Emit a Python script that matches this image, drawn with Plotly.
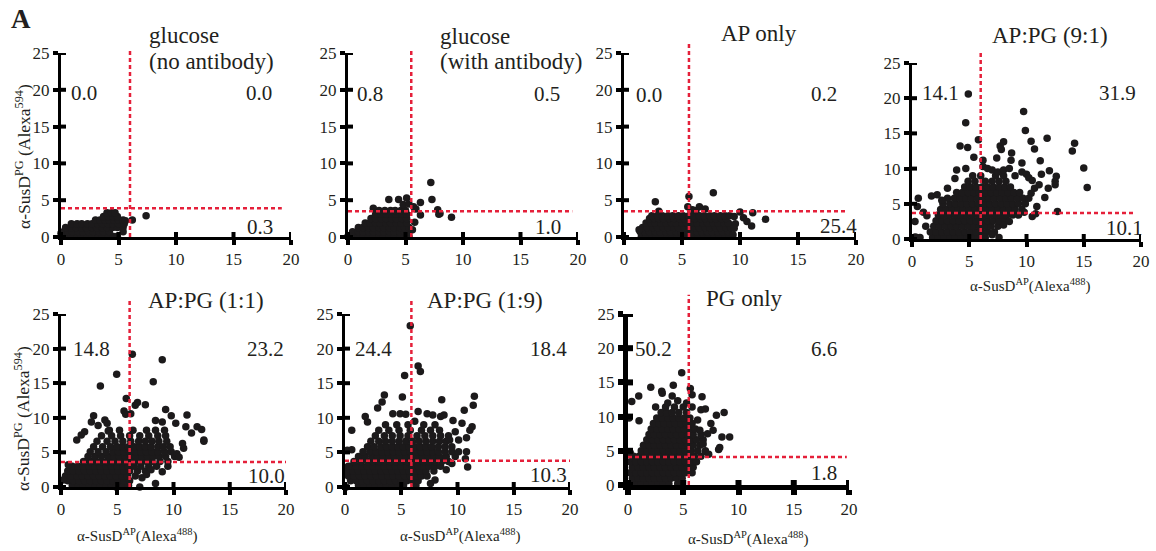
import plotly.graph_objects as go

W, H = 1156, 551
FONT = "Liberation Serif, Times New Roman, Times, serif"

# ---------------- data ----------------
TITLES = ["glucose<br>(no antibody)", "glucose<br>(with antibody)", "AP only", "AP:PG (9:1)",
          "AP:PG (1:1)", "AP:PG (1:9)", "PG only"]
PCT_UPPER_LEFT = ["0.0", "0.8", "0.0", "14.1", "14.8", "24.4", "50.2"]
PCT_UPPER_RIGHT = ["0.0", "0.5", "0.2", "31.9", "23.2", "18.4", "6.6"]
PCT_LOWER_RIGHT = ["0.3", "1.0", "25.4", "10.1", "10.0", "10.3", "1.8"]
GATE_X = [6.0, 5.5, 5.6, 6.0, 6.1, 5.9, 5.5]
GATE_Y = [3.9, 3.5, 3.5, 3.7, 3.6, 3.8, 4.1]
X_TICKS = [0, 5, 10, 15, 20]
Y_TICKS = [0, 5, 10, 15, 20, 25]
Y_TITLE = "α-SusD<sup>PG</sup> (Alexa<sup>594</sup>)"
X_TITLE = "α-SusD<sup>AP</sup>(Alexa<sup>488</sup>)"

# dense cores: (y, [x values]) rows, plus individual scattered cells
P1_ROWS = [
    (0.1, [0.1, 0.5, 0.9, 1.4, 1.8, 2.3, 2.7, 3.2, 3.6, 4.1, 4.5, 4.9]),
    (0.7, [0.2, 0.6, 1.0, 1.5, 1.9, 2.4, 2.8, 3.3, 3.7, 4.2, 5.4]),
    (1.3, [0.4, 0.9, 1.3, 1.8, 2.2, 2.7, 3.1, 3.6, 4.0, 4.5, 4.9, 5.4]),
    (1.8, [0.9, 1.4, 1.8, 2.3, 2.7, 3.2, 3.6, 4.1, 4.5, 5.0, 5.5]),
    (2.3, [3.0, 3.4, 3.8, 4.2, 4.6, 5.0, 5.4]),
    (2.8, [3.7, 4.1, 4.5, 4.9]),
    (3.3, [4.0, 4.4, 4.7]),
]
P1_CELLS = [(6.2, 2.3), (7.4, 2.9), (0.0, 0.5), (5.6, 2.2)]

P2_ROWS = [
    (0.1, [0.0, 0.4, 0.9, 1.3, 1.8, 2.2, 2.7, 3.1, 3.6, 4.0, 4.5, 4.9, 5.3]),
    (0.7, [0.4, 0.9, 1.3, 1.8, 2.2, 2.7, 3.1, 3.6, 4.0, 4.5, 4.9, 5.3]),
    (1.3, [0.9, 1.3, 1.8, 2.2, 2.7, 3.1, 3.6, 4.0, 4.5, 4.9, 5.3]),
    (1.9, [1.5, 1.9, 2.4, 2.8, 3.3, 3.7, 4.2, 4.6, 5.1]),
    (2.5, [2.0, 2.4, 2.9, 3.3, 3.8, 4.2, 4.7, 5.1]),
    (3.1, [2.4, 2.9, 3.3, 3.8, 4.2, 4.7, 5.1]),
    (3.6, [2.7, 3.2, 3.7, 4.1, 4.6, 5.0]),
]
P2_CELLS = [(3.55, 5.1), (4.4, 5.1), (5.1, 5.3), (4.8, 4.4), (5.3, 4.5), (5.7, 4.1), (5.9, 3.8),
            (6.3, 4.7), (6.3, 3.0), (7.2, 7.4), (7.3, 5.1), (7.8, 3.7), (8.0, 3.2), (7.9, 3.1),
            (9.0, 2.7), (5.8, 2.0), (5.6, 1.0), (2.2, 3.9)]

P3_ROWS = [
    (0.1, [1.5, 1.9, 2.4, 2.8, 3.3, 3.7, 4.2, 4.6, 5.1, 5.5, 6.0, 6.4, 6.9, 7.3, 7.8, 8.2, 8.7, 9.1]),
    (0.7, [1.4, 1.8, 2.2, 2.7, 3.1, 3.6, 4.0, 4.5, 4.9, 5.4, 5.8, 6.3, 6.7, 7.2, 7.6, 8.1, 8.5, 9.0]),
    (1.3, [1.6, 2.0, 2.5, 2.9, 3.4, 3.8, 4.3, 4.7, 5.2, 5.6, 6.1, 6.5, 7.0, 7.4, 7.9, 8.3, 8.8, 9.2]),
    (1.9, [1.9, 2.3, 2.7, 3.2, 3.6, 4.1, 4.5, 5.0, 5.4, 5.9, 6.3, 6.8, 7.2, 7.7, 8.1, 8.6, 9.0]),
    (2.5, [2.2, 2.6, 3.0, 3.4, 3.9, 4.3, 4.8, 5.2, 5.7, 6.1, 6.6, 7.0, 7.5, 7.9, 8.4, 8.8]),
    (2.9, [2.4, 2.9, 3.3, 3.8, 4.2, 4.7, 5.1, 5.6, 6.0, 6.5, 6.9, 7.4, 7.8, 8.3, 8.7, 9.1]),
]
P3_CELLS = [(2.7, 4.8), (5.6, 5.5), (5.5, 4.1), (6.5, 4.1), (7.0, 3.8), (7.7, 6.0), (9.5, 2.8),
            (9.6, 1.8), (10.0, 3.4), (10.3, 2.6), (10.6, 2.1), (11.1, 3.3), (11.0, 1.5), (12.2, 2.4),
            (9.4, 0.3), (9.5, 1.2), (6.2, 3.6), (5.9, 3.7), (3.0, 3.5), (1.3, 1.0)]

P4_ROWS = [
    (0.2, [0.2, 0.7, 1.8, 2.3, 2.8, 3.3, 3.8, 4.3, 4.8, 5.3, 5.8, 6.4, 7.6]),
    (1.0, [1.6, 2.1, 2.6, 3.1, 3.6, 4.1, 4.6, 5.1, 5.6, 6.1, 6.6, 7.2]),
    (1.8, [1.9, 2.4, 2.9, 3.4, 3.9, 4.4, 4.9, 5.4, 5.9, 6.4, 6.9, 7.5]),
    (2.6, [2.1, 2.6, 3.1, 3.6, 4.1, 4.6, 5.1, 5.6, 6.1, 6.6, 7.1, 7.6, 8.1]),
    (3.4, [2.3, 2.8, 3.3, 3.8, 4.3, 4.8, 5.3, 5.8, 6.3, 6.8, 7.3, 7.8, 8.3, 8.8, 9.3]),
    (4.2, [2.5, 3.0, 3.5, 4.0, 4.5, 5.0, 5.5, 6.0, 6.5, 7.0, 7.5, 8.0, 8.5, 9.0, 9.6]),
    (5.0, [2.7, 3.3, 3.8, 4.3, 4.8, 5.3, 5.8, 6.3, 6.8, 7.3, 7.8, 8.3, 8.8, 9.3, 9.9]),
    (5.8, [3.1, 3.7, 4.2, 4.7, 5.2, 5.7, 6.2, 6.7, 7.2, 7.7, 8.2, 8.7, 9.2, 9.7]),
    (6.6, [3.9, 4.4, 4.9, 5.4, 5.9, 6.4, 6.9, 7.4, 7.9, 8.4, 8.9, 9.4]),
    (7.4, [4.6, 5.1, 5.6, 6.1, 6.6, 7.1, 7.6, 8.1, 8.6]),
    (8.2, [4.9, 5.5, 6.4, 7.0, 7.6, 8.2]),
    (9.0, [5.3, 6.0, 7.3, 8.0]),
]
P4_CELLS = [(0.3, 0.3), (0.26, 2.5), (0.47, 4.6), (0.55, 5.8), (1.0, 3.8), (1.3, 3.3), (1.7, 6.1),
            (2.2, 6.3), (2.6, 5.5), (1.2, 1.8), (6.3, 0.3), (7.0, 0.6), (8.0, 2.0), (8.5, 2.5),
            (10.5, 3.2), (10.8, 3.6), (12.7, 3.9), (10.9, 4.6), (9.8, 3.8), (6.2, 11.2), (6.2, 10.3),
            (6.6, 10.0), (7.0, 9.8), (7.5, 9.5), (8.0, 9.8), (8.5, 10.0), (9.0, 9.0), (9.6, 9.5),
            (10.0, 9.2), (10.2, 8.7), (10.5, 8.3), (10.7, 7.2), (11.1, 7.7), (11.6, 5.9), (11.9, 7.2),
            (10.4, 6.5), (10.2, 5.8), (12.5, 7.7), (12.5, 8.2), (12.6, 8.9), (12.0, 9.7), (11.3, 9.2),
            (11.2, 11.1), (9.6, 10.8), (8.7, 12.2), (8.65, 11.2), (7.4, 11.5), (7.7, 13.2), (7.8, 12.7),
            (8.0, 13.8), (5.4, 11.6), (4.7, 10.0), (3.9, 9.8), (3.75, 8.6), (3.1, 7.2), (5.8, 14.1),
            (4.2, 13.2), (4.86, 13.0), (4.69, 16.5), (4.92, 20.6), (9.75, 18.1), (9.9, 15.4),
            (10.4, 13.9), (10.7, 12.8), (11.8, 14.3), (14.2, 13.6), (14.0, 12.5), (15.0, 10.1),
            (15.3, 7.3)]

P5_ROWS = [
    (0.2, [1.0, 1.5, 2.0, 2.5, 3.0, 3.5, 4.0, 4.5, 5.0, 5.5, 6.0]),
    (0.9, [0.6, 1.1, 1.6, 2.1, 2.6, 3.1, 3.6, 4.1, 4.6, 5.1, 5.6, 6.1]),
    (1.6, [0.4, 0.9, 1.4, 1.9, 2.4, 2.9, 3.4, 3.9, 4.4, 4.9, 5.4, 5.9, 6.6]),
    (2.3, [0.6, 1.1, 1.6, 2.1, 2.6, 3.1, 3.6, 4.1, 4.6, 5.1, 5.6, 6.1, 6.8, 7.5]),
    (3.0, [1.0, 1.5, 2.0, 2.5, 3.0, 3.5, 4.0, 4.5, 5.0, 5.5, 6.0, 6.5, 7.1, 7.8, 8.5]),
    (3.7, [2.0, 2.6, 3.1, 3.6, 4.1, 4.6, 5.1, 5.6, 6.1, 6.6, 7.1, 7.6, 8.1, 8.8, 9.5]),
    (4.4, [2.4, 3.0, 3.6, 4.2, 4.7, 5.2, 5.7, 6.2, 6.7, 7.2, 7.7, 8.2, 8.7, 9.3, 10.1]),
    (5.1, [2.6, 3.3, 4.0, 4.6, 5.1, 5.6, 6.1, 6.6, 7.1, 7.6, 8.1, 8.6, 9.2, 9.8]),
    (5.8, [2.9, 3.7, 4.4, 5.0, 5.5, 6.0, 6.5, 7.0, 7.5, 8.0, 8.6, 9.1, 9.7]),
    (6.6, [3.2, 4.1, 4.8, 5.5, 6.2, 6.9, 7.5, 8.1, 8.7, 9.4]),
    (7.4, [3.6, 4.5, 5.3, 6.1, 7.0, 7.8, 8.6, 9.3]),
    (8.2, [4.3, 5.2, 6.4, 7.6, 8.4, 9.2]),
]
P5_CELLS = [(6.34, 19.2), (9.0, 18.4), (4.95, 16.3), (8.2, 15.2), (3.5, 14.6), (5.8, 12.8),
            (6.6, 11.8), (6.8, 12.2), (7.5, 11.9), (5.6, 11.0), (5.75, 10.5), (6.2, 10.6), (9.3, 11.2),
            (9.8, 10.3), (11.2, 10.4), (8.4, 9.6), (9.0, 9.4), (10.2, 9.2), (11.1, 8.7), (12.1, 8.7),
            (12.5, 8.3), (12.7, 6.8), (12.7, 6.6), (11.6, 7.8), (10.8, 6.3), (10.9, 5.6), (10.3, 4.8),
            (10.5, 4.3), (2.9, 10.3), (2.7, 9.4), (2.1, 8.0), (1.8, 7.5), (1.4, 6.8), (3.9, 9.7),
            (4.1, 9.2), (4.2, 8.1), (3.3, 8.9), (0.65, 3.2), (0.2, 1.0), (7.2, 1.35), (8.4, 0.5),
            (7.0, 0.0), (8.0, 2.5), (9.0, 2.2), (9.5, 3.0), (7.6, 1.8), (4.9, 0.0)]

P6_ROWS = [
    (0.2, [1.2, 1.7, 2.2, 2.7, 3.2, 3.7, 4.2, 4.7, 5.2, 6.3]),
    (0.9, [0.5, 1.0, 1.5, 2.0, 2.5, 3.0, 3.5, 4.0, 4.5, 5.0, 5.5, 6.0, 6.5]),
    (1.6, [0.3, 0.8, 1.3, 1.8, 2.3, 2.8, 3.3, 3.8, 4.3, 4.8, 5.3, 5.8, 6.3, 6.8, 7.3]),
    (2.3, [0.2, 0.7, 1.2, 1.7, 2.2, 2.7, 3.2, 3.7, 4.2, 4.7, 5.2, 5.7, 6.2, 6.7, 7.2, 7.9]),
    (3.0, [0.5, 1.0, 1.5, 2.0, 2.5, 3.0, 3.5, 4.0, 4.5, 5.0, 5.5, 6.0, 6.5, 7.0, 7.5, 8.0, 8.5]),
    (3.7, [0.8, 1.4, 2.0, 2.5, 3.0, 3.5, 4.0, 4.5, 5.0, 5.5, 6.0, 6.5, 7.0, 7.5, 8.0, 8.6, 9.2]),
    (4.4, [1.2, 1.8, 2.4, 2.9, 3.4, 3.9, 4.4, 4.9, 5.4, 5.9, 6.4, 6.9, 7.4, 7.9, 8.4, 9.0, 9.8]),
    (5.1, [1.6, 2.2, 2.8, 3.3, 3.8, 4.3, 4.8, 5.3, 5.8, 6.3, 6.8, 7.3, 7.8, 8.3, 8.9, 9.5, 10.1]),
    (5.8, [2.0, 2.6, 3.2, 3.7, 4.2, 4.7, 5.2, 5.7, 6.2, 6.7, 7.2, 7.7, 8.3, 8.9, 9.5]),
    (6.6, [2.3, 3.0, 3.6, 4.2, 4.8, 5.4, 6.0, 6.6, 7.2, 7.8, 8.4, 9.0]),
    (7.4, [2.7, 3.5, 4.2, 4.9, 5.6, 6.4, 7.1, 7.8, 8.5, 9.2]),
    (8.2, [3.0, 3.9, 4.8, 5.8, 6.8, 7.6, 8.4]),
    (9.0, [3.6, 4.6, 5.6, 7.0, 8.0]),
]
P6_CELLS = [(5.8, 23.3), (6.5, 17.5), (6.7, 16.7), (5.3, 16.1), (5.1, 13.0), (3.5, 13.3),
            (3.3, 12.3), (2.9, 11.4), (11.5, 13.1), (11.4, 11.8), (10.6, 11.1), (8.6, 12.6),
            (11.3, 8.7), (11.1, 8.2), (10.8, 7.1), (10.1, 6.8), (9.3, 6.8), (10.8, 5.1), (10.7, 4.1),
            (10.9, 2.9), (1.8, 10.2), (2.0, 9.4), (0.6, 8.2), (0.2, 5.3), (0.6, 5.4), (4.25, 10.6),
            (4.9, 10.6), (6.5, 10.9), (7.3, 10.6), (7.8, 10.4), (8.5, 10.2), (8.8, 10.4), (5.4, 10.5),
            (6.2, 9.5), (9.6, 9.6), (9.8, 8.0), (10.4, 9.2), (8.0, 1.0), (7.6, 0.5), (9.0, 2.5),
            (9.5, 3.4), (0.1, 0.0), (0.3, 3.0), (0.1, 2.1)]

P7_ROWS = [
    (0.2, [0.2, 0.7, 1.2, 1.7, 2.2, 2.7, 3.2, 3.7, 4.5]),
    (1.0, [0.4, 0.9, 1.4, 1.9, 2.4, 2.9, 3.4, 3.9, 4.4, 4.9]),
    (1.8, [0.2, 0.7, 1.2, 1.7, 2.2, 2.7, 3.2, 3.7, 4.2, 4.7, 5.2, 5.8]),
    (2.6, [0.4, 0.9, 1.4, 1.9, 2.4, 2.9, 3.4, 3.9, 4.4, 4.9, 5.4, 5.9]),
    (3.4, [0.2, 0.7, 1.2, 1.7, 2.2, 2.7, 3.2, 3.7, 4.2, 4.7, 5.2, 5.7, 6.2]),
    (4.2, [0.5, 1.0, 1.5, 2.0, 2.5, 3.0, 3.5, 4.0, 4.5, 5.0, 5.5, 6.0, 6.6]),
    (5.0, [1.2, 1.7, 2.2, 2.7, 3.2, 3.7, 4.2, 4.7, 5.2, 5.7, 6.3, 7.0]),
    (5.8, [1.4, 1.9, 2.4, 2.9, 3.4, 3.9, 4.4, 4.9, 5.4, 5.9, 6.5]),
    (6.6, [1.7, 2.2, 2.7, 3.2, 3.7, 4.2, 4.7, 5.2, 5.7, 6.2, 6.8]),
    (7.4, [1.9, 2.4, 2.9, 3.4, 3.9, 4.4, 4.9, 5.4, 5.9, 6.6]),
    (8.2, [2.1, 2.6, 3.1, 3.6, 4.1, 4.6, 5.1, 5.6, 6.1]),
    (9.0, [2.3, 2.8, 3.3, 3.8, 4.3, 4.8, 5.3, 5.8]),
    (9.8, [2.6, 3.1, 3.6, 4.1, 4.6, 5.1, 5.6]),
    (10.6, [3.0, 3.5, 4.0, 4.6, 5.3]),
    (11.4, [2.5, 3.4, 4.2, 5.0, 5.8]),
]
P7_CELLS = [(4.86, 16.4), (4.1, 14.6), (2.06, 14.3), (3.05, 13.7), (3.1, 13.4), (5.64, 14.1),
            (5.8, 13.2), (6.7, 12.9), (0.97, 13.0), (0.34, 12.2), (4.0, 13.0), (6.6, 11.0),
            (7.0, 11.1), (8.0, 10.2), (8.7, 10.6), (7.5, 9.0), (9.2, 7.0), (8.5, 7.0), (8.3, 5.5),
            (8.2, 5.2), (7.7, 8.0), (7.0, 4.9), (0.1, 9.8), (1.0, 9.4), (0.2, 4.7), (6.8, 6.0),
            (7.3, 4.5), (7.2, 7.5), (6.5, 8.0), (6.3, 9.5), (5.3, 12.0), (4.5, 12.3), (3.6, 12.0)]

PANEL_ROWS = [P1_ROWS, P2_ROWS, P3_ROWS, P4_ROWS, P5_ROWS, P6_ROWS, P7_ROWS]
PANEL_CELLS = [P1_CELLS, P2_CELLS, P3_CELLS, P4_CELLS, P5_CELLS, P6_CELLS, P7_CELLS]

# ---------------- layout geometry (pixels) ----------------
# x at value 0, x at value 20, y at value 0, y at value 25
PANEL_PX = [(61, 291, 237, 53), (348, 578, 237, 53), (624, 856, 237, 53), (912, 1141, 239, 63),
            (61, 286, 487, 314), (345, 570, 487, 314), (628, 849, 485, 314)]
VLINE_TOP = [25.5, 25.5, 26.4, 26.8, 27.0, 27.0, 27.8]
HLINE_END = [19.2, 19.5, 19.3, 19.3, 20.0, 20.0, 19.8]
AXIS_W = [3, 3, 3, 3, 3, 3, 5]

TITLE_POS = [(147, 'left'), (438, 'left'), (759, 'center'), (1050, 'center'),
             (206, 'center'), (485, 'center'), (744, 'center')]
TITLE_Y = [(35, 61), (36, 61), 34, 35, 300, 300, 298]
UL_POS = [(84, 93), (370, 94), (649, 95), (940, 93), (91, 349), (373, 349), (653, 349)]
UR_POS = [(259, 93), (547, 94), (824, 94), (1117, 93), (265, 349), (548, 349), (824, 349)]
LR_POS = [(260, 227), (548, 227), (838, 226), (1124, 228), (266, 476), (548, 475), (824, 473)]

RED = "#e5203a"
DOT = "#1c1a1b"
INK = "#231f20"


def px(x):
    return x / W


def py(y):
    return 1 - y / H


fig = go.Figure()
layout = dict(template="none", width=W, height=H, autosize=False,
              margin=dict(l=0, r=0, t=0, b=0, pad=0),
              paper_bgcolor="white", plot_bgcolor="white", showlegend=False,
              font=dict(family=FONT, color=INK))
shapes = []
annotations = []

for i in range(7):
    n = "" if i == 0 else str(i + 1)
    x0p, x20p, y0p, y25p = PANEL_PX[i]
    xs, ys = [], []
    for yv, xrow in PANEL_ROWS[i]:
        for xv in xrow:
            xs.append(xv)
            ys.append(yv)
    for xv, yv in PANEL_CELLS[i]:
        xs.append(xv)
        ys.append(yv)
    fig.add_trace(go.Scatter(x=xs, y=ys, mode="markers", xaxis="x" + n, yaxis="y" + n,
                             marker=dict(size=7.5, color=DOT, line=dict(width=0)),
                             cliponaxis=False, hoverinfo="skip"))
    tw = AXIS_W[i] + 1
    ax = dict(showline=True, linecolor="black", linewidth=AXIS_W[i], showgrid=False,
              zeroline=False, ticks="outside", ticklen=5, tickwidth=tw, automargin=False,
              tickcolor="black", tickfont=dict(family=FONT, size=17, color=INK))
    layout["xaxis" + n] = dict(ax, domain=[px(x0p), px(x20p)], range=[0, 20],
                               tickvals=X_TICKS, anchor="y" + n)
    layout["yaxis" + n] = dict(ax, domain=[py(y0p), py(y25p)], range=[0, 25],
                               tickvals=Y_TICKS, anchor="x" + n)
    yd0, yd1 = py(y0p), py(y25p)
    # inner halves of the tick blobs (ticks cross the axis line in the original)
    for t in X_TICKS:
        shapes.append(dict(type="line", xref="x" + n, yref="paper", x0=t, x1=t,
                           y0=yd0, y1=yd0 + 5 / H, line=dict(color="black", width=tw)))
    for t in Y_TICKS:
        shapes.append(dict(type="line", xref="paper", yref="y" + n, y0=t, y1=t,
                           x0=px(x0p), x1=px(x0p + 5), line=dict(color="black", width=tw)))
    shapes.append(dict(type="line", xref="x" + n, yref="paper", x0=GATE_X[i], x1=GATE_X[i],
                       y0=yd0, y1=yd0 + VLINE_TOP[i] / 25 * (yd1 - yd0),
                       line=dict(color=RED, width=2.5, dash="4px,3px")))
    shapes.append(dict(type="line", xref="x" + n, yref="y" + n, x0=0, x1=HLINE_END[i],
                       y0=GATE_Y[i], y1=GATE_Y[i],
                       line=dict(color=RED, width=2.5, dash="4px,3px")))

    tf = dict(family=FONT, size=23, color=INK)
    if "<br>" in TITLES[i]:
        l1, l2 = TITLES[i].split("<br>")
        for t, yy in zip((l1, l2), TITLE_Y[i]):
            annotations.append(dict(text=t, x=px(TITLE_POS[i][0]), y=py(yy), xref="paper",
                                    yref="paper", xanchor="left", yanchor="middle",
                                    showarrow=False, font=tf))
    else:
        annotations.append(dict(text=TITLES[i], x=px(TITLE_POS[i][0]), y=py(TITLE_Y[i]),
                                xref="paper", yref="paper", xanchor=TITLE_POS[i][1],
                                yanchor="middle", showarrow=False, font=tf))
    nf = dict(family=FONT, size=21, color=INK)
    for txt, pos in ((PCT_UPPER_LEFT[i], UL_POS[i]), (PCT_UPPER_RIGHT[i], UR_POS[i]),
                     (PCT_LOWER_RIGHT[i], LR_POS[i])):
        annotations.append(dict(text=txt, x=px(pos[0]), y=py(pos[1]), xref="paper",
                                yref="paper", xanchor="center", yanchor="middle",
                                showarrow=False, font=nf))

yf = dict(family=FONT, size=17.5, color=INK)
for (cx, cy) in [(23, 157), (22, 419)]:
    annotations.append(dict(text=Y_TITLE, x=px(cx), y=py(cy), xref="paper", yref="paper",
                            xanchor="center", yanchor="middle", textangle=-90,
                            showarrow=False, font=yf))
xf = dict(family=FONT, size=15, color=INK)
for (cx, cy) in [(1030, 285), (137, 535), (460, 535), (748, 538)]:
    annotations.append(dict(text=X_TITLE, x=px(cx), y=py(cy), xref="paper", yref="paper",
                            xanchor="center", yanchor="middle", showarrow=False, font=xf))

annotations.append(dict(text="<b>A</b>", x=px(21), y=py(19), xref="paper", yref="paper",
                        xanchor="center", yanchor="middle", showarrow=False,
                        font=dict(family=FONT, size=27, color=INK)))

layout["shapes"] = shapes
layout["annotations"] = annotations
fig.update_layout(**layout)
# remove the browser's default 8px page margin so the figure sits at (0, 0)
fig.write_html("out.html", config={"displayModeBar": False},
               post_script="document.body.style.margin='0';document.body.style.overflow='hidden';")
